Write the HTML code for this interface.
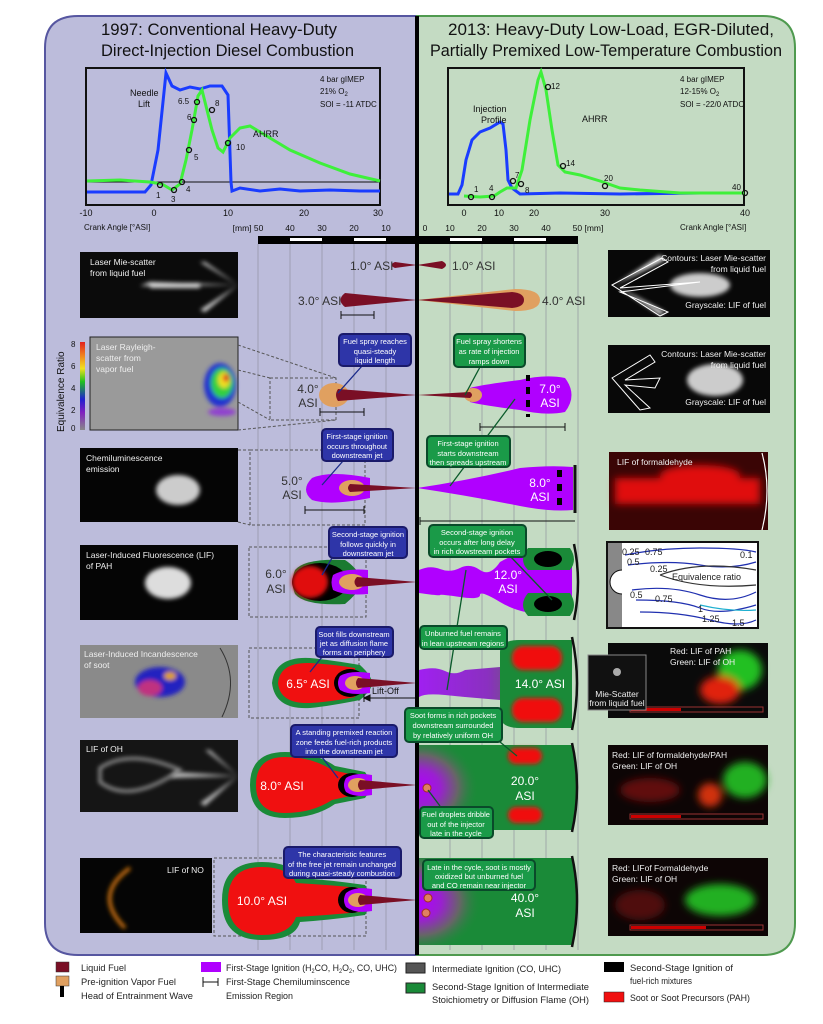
<!DOCTYPE html>
<html><head><meta charset="utf-8"><style>
html,body{margin:0;padding:0;background:#fff;}
svg{display:block;font-family:"Liberation Sans",sans-serif;}
.cb{fill:#fff;font-size:7.5px;text-anchor:middle;}
.lbl{font-size:12px;fill:#333;}
.wl{font-size:12px;fill:#fff;}
.il{font-size:8.5px;fill:#eee;}
.lg{font-size:9.5px;fill:#222;}
</style></head><body>
<svg width="823" height="1024" viewBox="0 0 823 1024" xmlns="http://www.w3.org/2000/svg">
<defs>
<filter id="bl" x="-50%" y="-50%" width="200%" height="200%"><feGaussianBlur stdDeviation="4"/></filter>
<filter id="bl2" x="-50%" y="-50%" width="200%" height="200%"><feGaussianBlur stdDeviation="2"/></filter>
<linearGradient id="pg" x1="0" x2="1"><stop offset="0" stop-color="#a020f0"/><stop offset="0.45" stop-color="#8a30c0"/><stop offset="0.7" stop-color="#666"/><stop offset="1" stop-color="#555"/></linearGradient>
<radialGradient id="rg" cx="0" cy="0.5" r="0.6"><stop offset="0" stop-color="#b000ff"/><stop offset="0.35" stop-color="#9a20d0"/><stop offset="0.65" stop-color="#666"/><stop offset="1" stop-color="#1a8a38" stop-opacity="0"/></radialGradient>
<linearGradient id="cbar" x1="0" y1="1" x2="0" y2="0"><stop offset="0" stop-color="#888"/><stop offset=".2" stop-color="#8020c0"/><stop offset=".35" stop-color="#2020d0"/><stop offset=".55" stop-color="#20c020"/><stop offset=".7" stop-color="#f0e020"/><stop offset=".85" stop-color="#f08020"/><stop offset="1" stop-color="#e02020"/></linearGradient>
</defs>

<!-- frames -->
<path d="M417 16 H78 Q45 16 45 48 V923 Q45 955 78 955 H417 Z" fill="#bcbcdb" stroke="#5656a0" stroke-width="2"/>
<path d="M417 16 H763 Q795 16 795 48 V923 Q795 955 763 955 H417 Z" fill="#c4dbc3" stroke="#4f9a4f" stroke-width="2"/>

<!-- titles -->
<text x="101" y="35" textLength="236" lengthAdjust="spacingAndGlyphs" font-size="17" fill="#111">1997: Conventional Heavy-Duty</text>
<text x="101" y="56" textLength="253" lengthAdjust="spacingAndGlyphs" font-size="17" fill="#111">Direct-Injection Diesel Combustion</text>
<text x="448" y="35" textLength="326" lengthAdjust="spacingAndGlyphs" font-size="17" fill="#111">2013: Heavy-Duty Low-Load, EGR-Diluted,</text>
<text x="430" y="56" textLength="352" lengthAdjust="spacingAndGlyphs" font-size="17" fill="#111">Partially Premixed Low-Temperature Combustion</text>

<!-- left plot -->
<rect x="86" y="68" width="294" height="137" fill="none" stroke="#111" stroke-width="2"/>
<line x1="86" y1="182" x2="380" y2="182" stroke="#111" stroke-width="1"/>
<polyline fill="none" stroke="#1a3cff" stroke-width="3" points="87,192 145,192 151,185 158,150 166,73 172,86 180,90 190,87 200,89 210,86 222,86 228,95 231,182 232,191 240,188 260,191 280,189 300,191 330,190 360,191 380,191"/>
<polyline fill="none" stroke="#3ef03a" stroke-width="3" points="87,181 120,180 150,182 162,184 172,190 180,184 186,160 192,130 198,96 202,90 207,110 212,130 218,148 223,152 230,138 240,128 250,126 265,135 290,150 320,163 350,174 380,181"/>
<g fill="none" stroke="#111" stroke-width="1.3">
<circle cx="160" cy="185" r="2.5"/><circle cx="174" cy="190" r="2.5"/><circle cx="182" cy="182" r="2.5"/><circle cx="189" cy="150" r="2.5"/><circle cx="194" cy="120" r="2.5"/><circle cx="197" cy="102" r="2.5"/><circle cx="212" cy="110" r="2.5"/><circle cx="228" cy="143" r="2.5"/>
</g>
<g font-size="8" fill="#111">
<text x="156" y="198">1</text><text x="171" y="202">3</text><text x="186" y="192">4</text><text x="194" y="160">5</text><text x="187" y="120">6</text><text x="178" y="104">6.5</text><text x="215" y="106">8</text><text x="236" y="150">10</text>
<text x="130" y="96" font-size="9">Needle</text><text x="138" y="107" font-size="9">Lift</text>
<text x="253" y="137" font-size="9">AHRR</text>
<text x="320" y="82">4 bar gIMEP</text><text x="320" y="94">21% O<tspan font-size="6" dy="2">2</tspan></text><text x="320" y="107">SOI = -11 ATDC</text>
</g>
<g font-size="9" fill="#111" text-anchor="middle">
<text x="86" y="216">-10</text><text x="154" y="216">0</text><text x="228" y="216">10</text><text x="304" y="216">20</text><text x="378" y="216">30</text>
</g>
<text x="84" y="230" font-size="8" fill="#111">Crank Angle [°ASI]</text>

<!-- right plot -->
<rect x="448" y="68" width="296" height="137" fill="none" stroke="#111" stroke-width="2"/>
<polyline fill="none" stroke="#1a3cff" stroke-width="3" points="449,194 458,194 462,185 466,160 472,140 480,132 490,128 500,122 503,124 506,150 508,180 512,188 520,194 560,193 620,194 700,193 744,193"/>
<polyline fill="none" stroke="#3ef03a" stroke-width="3" points="464,196 480,197 494,196 500,192 507,188 516,188 522,170 530,120 538,80 541,72 546,90 552,130 558,165 565,172 580,175 600,181 620,188 640,190 680,193 720,193 744,193"/>
<g fill="none" stroke="#111" stroke-width="1.3">
<circle cx="471" cy="197" r="2.5"/><circle cx="492" cy="197" r="2.5"/><circle cx="513" cy="181" r="2.5"/><circle cx="521" cy="184" r="2.5"/><circle cx="548" cy="87" r="2.5"/><circle cx="563" cy="166" r="2.5"/><circle cx="605" cy="186" r="2.5"/><circle cx="745" cy="193" r="2.5"/>
</g>
<g font-size="8" fill="#111">
<text x="474" y="192">1</text><text x="489" y="191">4</text><text x="515" y="178">7</text><text x="525" y="193">8</text><text x="551" y="89">12</text><text x="566" y="166">14</text><text x="604" y="181">20</text><text x="732" y="190">40</text>
<text x="473" y="112" font-size="9">Injection</text><text x="481" y="123" font-size="9">Profile</text>
<text x="582" y="122" font-size="9">AHRR</text>
<text x="680" y="82">4 bar gIMEP</text><text x="680" y="94">12-15% O<tspan font-size="6" dy="2">2</tspan></text><text x="680" y="107">SOI = -22/0 ATDC</text>
</g>
<g font-size="9" fill="#111" text-anchor="middle">
<text x="464" y="216">0</text><text x="499" y="216">10</text><text x="534" y="216">20</text><text x="605" y="216">30</text><text x="745" y="216">40</text>
</g>
<text x="680" y="230" font-size="8" fill="#111">Crank Angle [°ASI]</text>

<!-- mm scale -->
<g font-size="8.5" fill="#111" text-anchor="middle">
<text x="248" y="231">[mm] 50</text><text x="290" y="231">40</text><text x="322" y="231">30</text><text x="354" y="231">20</text><text x="386" y="231">10</text><text x="425" y="231">0</text><text x="450" y="231">10</text><text x="482" y="231">20</text><text x="514" y="231">30</text><text x="546" y="231">40</text><text x="588" y="231">50 [mm]</text>
</g>
<rect x="258" y="236" width="320" height="8" fill="#000"/>
<g fill="#fff"><rect x="290" y="238" width="32" height="3"/><rect x="354" y="238" width="32" height="3"/><rect x="450" y="238" width="32" height="3"/><rect x="514" y="238" width="32" height="3"/></g>
<g stroke="#8e8e9e" stroke-width="0.8" opacity="0.8">
<line x1="258" y1="244" x2="258" y2="950"/><line x1="290" y1="244" x2="290" y2="950"/><line x1="322" y1="244" x2="322" y2="950"/><line x1="354" y1="244" x2="354" y2="950"/><line x1="386" y1="244" x2="386" y2="950"/>
<line x1="450" y1="244" x2="450" y2="950"/><line x1="482" y1="244" x2="482" y2="950"/><line x1="514" y1="244" x2="514" y2="950"/><line x1="546" y1="244" x2="546" y2="950"/><line x1="578" y1="244" x2="578" y2="950"/>
</g>

<!-- LEFT IMAGES -->
<rect x="80" y="252" width="158" height="66" fill="#0b0b0b"/>
<g filter="url(#bl2)" fill="#ddd"><path d="M238 285 L200 262 L205 262 Z"/><path d="M238 285 L205 312 L200 310 Z"/><path d="M238 285 L140 286 L150 282 Z"/><rect x="150" y="283" width="50" height="5"/></g>
<text x="90" y="265" class="il">Laser Mie-scatter</text><text x="90" y="276" class="il">from liquid fuel</text>

<rect x="90" y="337" width="148" height="93" fill="#9a9a9a" stroke="#222"/>
<g filter="url(#bl2)"><ellipse cx="220" cy="385" rx="16" ry="22" fill="#2030d0"/><ellipse cx="222" cy="383" rx="11" ry="15" fill="#30d040"/><ellipse cx="224" cy="380" rx="6" ry="8" fill="#f0e020"/><ellipse cx="226" cy="378" rx="3" ry="4" fill="#e02020"/><ellipse cx="222" cy="412" rx="14" ry="4" fill="#9040d0"/></g>
<text x="96" y="350" class="il">Laser Rayleigh-</text><text x="96" y="361" class="il">scatter from</text><text x="96" y="372" class="il">vapor fuel</text>
<rect x="80" y="342" width="5" height="88" fill="url(#cbar)"/>
<g font-size="8" fill="#111"><text x="71" y="347">8</text><text x="71" y="369">6</text><text x="71" y="391">4</text><text x="71" y="413">2</text><text x="71" y="431">0</text></g>
<text transform="translate(64 432) rotate(-90)" font-size="10" fill="#111">Equivalence Ratio</text>

<rect x="80" y="448" width="158" height="74" fill="#050505"/>
<ellipse cx="178" cy="490" rx="22" ry="15" fill="#ccc" filter="url(#bl2)"/>
<text x="86" y="461" class="il">Chemiluminescence</text><text x="86" y="472" class="il">emission</text>

<rect x="80" y="545" width="158" height="75" fill="#050505"/>
<ellipse cx="168" cy="583" rx="23" ry="16" fill="#ddd" filter="url(#bl2)"/>
<text x="86" y="558" class="il">Laser-Induced Fluorescence (LIF)</text><text x="86" y="569" class="il">of PAH</text>

<rect x="80" y="645" width="158" height="73" fill="#8a8a8a"/>
<path d="M220 648 Q240 680 222 717" fill="none" stroke="#333" stroke-width="1"/>
<g filter="url(#bl2)"><ellipse cx="160" cy="682" rx="25" ry="15" fill="#2020c0"/><ellipse cx="150" cy="688" rx="12" ry="8" fill="#c03080"/><ellipse cx="170" cy="676" rx="6" ry="4" fill="#e0a020"/></g>
<text x="84" y="657" class="il">Laser-Induced Incandescence</text><text x="84" y="668" class="il">of soot</text>

<rect x="80" y="740" width="158" height="72" fill="#151515"/>
<g filter="url(#bl2)" fill="#bbb"><path d="M238 776 L205 750 L210 750 Z"/><path d="M238 776 L205 806 L200 803 Z"/><path d="M238 776 L170 778 L175 772 Z"/></g>
<path d="M100 768 Q130 748 180 770 Q130 805 100 782 Z" fill="none" stroke="#999" stroke-width="3" filter="url(#bl2)"/>
<text x="86" y="752" class="il">LIF of OH</text>

<rect x="80" y="858" width="132" height="75" fill="#050505"/>
<path d="M130 868 Q92 895 125 928" fill="none" stroke="#c06a10" stroke-width="4" filter="url(#bl2)"/>
<text x="167" y="873" class="il">LIF of NO</text>

<!-- dashed boxes -->
<g fill="none" stroke="#555" stroke-width="1" stroke-dasharray="3,2">
<rect x="270" y="378" width="66" height="42"/>
<line x1="238" y1="345" x2="336" y2="378"/><line x1="238" y1="430" x2="336" y2="420"/>
<line x1="238" y1="370" x2="270" y2="378"/><line x1="238" y1="402" x2="270" y2="420"/>
<rect x="250" y="450" width="115" height="75"/><line x1="238" y1="450" x2="250" y2="450"/><line x1="238" y1="522" x2="250" y2="525"/>
<rect x="249" y="547" width="117" height="70"/>
<rect x="249" y="648" width="110" height="70"/>
<rect x="214" y="858" width="152" height="78"/>
</g>

<!-- RIGHT IMAGES -->
<rect x="608" y="250" width="162" height="67" fill="#080808"/>
<g filter="url(#bl2)"><ellipse cx="700" cy="285" rx="30" ry="12" fill="#ccc"/><path d="M615 285 L660 255 L665 260 Z" fill="#ddd"/><path d="M615 285 L665 312 L660 315 Z" fill="#ddd"/></g>
<g fill="none" stroke="#fff" stroke-width="1"><path d="M612 285 L662 258 L668 262 L620 288 L700 282 L620 292 L668 312 L660 316 Z"/></g>
<text x="766" y="261" class="il" text-anchor="end">Contours: Laser Mie-scatter</text><text x="766" y="272" class="il" text-anchor="end">from liquid fuel</text><text x="766" y="308" class="il" text-anchor="end">Grayscale: LIF of fuel</text>

<rect x="608" y="345" width="162" height="68" fill="#080808"/>
<g filter="url(#bl2)"><ellipse cx="715" cy="380" rx="28" ry="16" fill="#ccc"/></g>
<g fill="none" stroke="#fff" stroke-width="1"><path d="M612 378 L650 355 L655 362 L625 380 L660 378 L655 388 L625 385 L650 408 L640 410 Z"/></g>
<text x="766" y="357" class="il" text-anchor="end">Contours: Laser Mie-scatter</text><text x="766" y="368" class="il" text-anchor="end">from liquid fuel</text><text x="766" y="405" class="il" text-anchor="end">Grayscale: LIF of fuel</text>

<rect x="609" y="452" width="159" height="78" fill="#3a0505"/>
<g filter="url(#bl)" fill="#e01010"><rect x="615" y="478" width="145" height="26"/><ellipse cx="700" cy="475" rx="40" ry="10"/></g>
<path d="M762 453 Q772 490 762 530" fill="none" stroke="#fff" stroke-width="1.2"/>
<text x="617" y="465" class="il">LIF of formaldehyde</text>

<rect x="607" y="542" width="151" height="86" fill="#fff" stroke="#111" stroke-width="2"/>
<rect x="608" y="543" width="14" height="84" fill="#888"/>
<path d="M622 570 A12 12 0 0 0 622 594" fill="#fff" stroke="#111"/>
<g fill="none" stroke="#2030b0" stroke-width="1.2">
<path d="M625 555 Q660 548 700 548 T756 552"/><path d="M628 565 Q670 560 700 565 T756 562"/><path d="M632 590 Q670 585 700 595 T756 592"/><path d="M636 600 Q680 600 700 608 T756 605"/><path d="M640 612 Q680 612 710 620 T756 620"/>
</g>
<path d="M660 575 Q700 560 756 570 M660 575 Q700 590 756 585" fill="none" stroke="#333" stroke-width="1.2"/>
<path d="M700 605 Q730 612 756 610" fill="none" stroke="#20b0d0" stroke-width="1.2"/>
<g font-size="9" fill="#222"><text x="622" y="555">0.25</text><text x="645" y="555">0.75</text><text x="627" y="565">0.5</text><text x="740" y="558">0.1</text><text x="650" y="572">0.25</text><text x="672" y="580">Equivalence ratio</text><text x="630" y="598">0.5</text><text x="655" y="602">0.75</text><text x="698" y="612">1</text><text x="702" y="622">1.25</text><text x="732" y="626">1.5</text></g>

<rect x="608" y="643" width="160" height="75" fill="#0a0a0a"/>
<g filter="url(#bl)"><ellipse cx="740" cy="670" rx="22" ry="20" fill="#20c020"/><ellipse cx="720" cy="690" rx="20" ry="14" fill="#e02010"/></g>
<rect x="630" y="707" width="133" height="5" fill="none" stroke="#933" stroke-width="1"/><rect x="631" y="708" width="50" height="3" fill="#c00"/>
<text x="670" y="654" class="il">Red: LIF of PAH</text><text x="670" y="665" class="il">Green: LIF of OH</text>
<rect x="588" y="655" width="58" height="55" fill="#111" stroke="#888"/>
<circle cx="617" cy="672" r="4" fill="#aaa"/>
<text x="617" y="697" class="il" text-anchor="middle" font-size="7.5">Mie-Scatter</text><text x="617" y="706" class="il" text-anchor="middle" font-size="7.5">from liquid fuel</text>

<rect x="608" y="745" width="160" height="80" fill="#0d0505"/>
<g filter="url(#bl)"><ellipse cx="650" cy="790" rx="30" ry="12" fill="#601010"/><ellipse cx="745" cy="780" rx="22" ry="18" fill="#20b020"/><ellipse cx="710" cy="795" rx="12" ry="12" fill="#d03010"/></g>
<rect x="630" y="814" width="133" height="5" fill="none" stroke="#933"/><rect x="631" y="815" width="50" height="3" fill="#c00"/>
<text x="612" y="758" class="il">Red: LIF of formaldehyde/PAH</text><text x="612" y="769" class="il">Green: LIF of OH</text>

<rect x="608" y="858" width="160" height="78" fill="#0d0505"/>
<g filter="url(#bl)"><ellipse cx="640" cy="905" rx="25" ry="15" fill="#501010"/><ellipse cx="720" cy="900" rx="35" ry="16" fill="#20b020"/></g>
<rect x="630" y="925" width="133" height="5" fill="none" stroke="#933"/><rect x="631" y="926" width="75" height="3" fill="#c00"/>
<text x="612" y="871" class="il">Red: LIFof Formaldehyde</text><text x="612" y="882" class="il">Green: LIF of OH</text>

<!-- ===== JETS ===== -->
<path d="M417 265 L395 262 Q388 265 395 268 Z" fill="#7a0f25"/>
<path d="M417 265 L442 261 Q450 265 442 269 Z" fill="#7a0f25"/>
<text x="350" y="270" class="lbl">1.0° ASI</text><text x="452" y="270" class="lbl">1.0° ASI</text>
<path d="M417 300 L345 293 Q336 300 345 307 Z" fill="#7a0f25"/>
<path d="M417 300 L515 289 Q540 289 540 300 Q540 311 515 311 Z" fill="#e0a060"/>
<path d="M417 300 L512 292 Q524 293 524 300 Q524 307 512 308 Z" fill="#7a0f25"/>
<text x="298" y="305" class="lbl">3.0° ASI</text><text x="542" y="305" class="lbl">4.0° ASI</text>
<g stroke="#111" stroke-width="1"><line x1="341" y1="315" x2="374" y2="315"/><line x1="341" y1="311" x2="341" y2="319"/><line x1="374" y1="311" x2="374" y2="319"/></g>
<ellipse cx="334" cy="395" rx="15" ry="12" fill="#e0a060"/>
<path d="M417 395 L338 389 Q334 395 338 401 Z" fill="#7a0f25"/>
<path d="M470 388 Q480 385 520 380 Q545 374 565 378 Q578 395 565 412 Q545 416 520 410 Q480 405 470 402 Z" fill="#b000ff"/>
<ellipse cx="473" cy="395" rx="9" ry="7" fill="#e0a060"/>
<path d="M417 395 L470 392 Q474 395 470 398 Z" fill="#7a0f25"/>
<g fill="#000"><rect x="526" y="375" width="4" height="6"/><rect x="526" y="387" width="4" height="7"/><rect x="526" y="400" width="4" height="7"/><rect x="526" y="414" width="4" height="3"/></g>
<text x="550" y="393" class="wl" text-anchor="middle">7.0°</text><text x="550" y="407" class="wl" text-anchor="middle">ASI</text>
<text x="308" y="393" class="lbl" text-anchor="middle">4.0°</text><text x="308" y="407" class="lbl" text-anchor="middle">ASI</text>
<g stroke="#111" stroke-width="1"><line x1="320" y1="412" x2="364" y2="412"/><line x1="320" y1="408" x2="320" y2="416"/><line x1="364" y1="408" x2="364" y2="416"/>
<line x1="480" y1="427" x2="565" y2="427"/><line x1="480" y1="423" x2="480" y2="431"/><line x1="565" y1="423" x2="565" y2="431"/></g>
<path d="M370 478 Q330 470 312 478 Q300 490 312 500 Q330 506 370 498 Z" fill="#b000ff"/>
<ellipse cx="352" cy="488" rx="13" ry="8" fill="#e0a060"/>
<path d="M417 488 L350 484 Q346 488 350 492 Z" fill="#7a0f25"/>
<path d="M417 488 Q470 480 520 468 Q550 465 573 467 L573 510 Q550 512 520 506 Q470 496 417 488 Z" fill="#b000ff"/>
<line x1="575" y1="465" x2="575" y2="513" stroke="#111" stroke-width="3"/>
<g fill="#000"><rect x="557" y="470" width="5" height="7"/><rect x="557" y="484" width="5" height="7"/><rect x="557" y="498" width="5" height="7"/></g>
<text x="540" y="487" class="wl" text-anchor="middle">8.0°</text><text x="540" y="501" class="wl" text-anchor="middle">ASI</text>
<text x="292" y="485" class="lbl" text-anchor="middle">5.0°</text><text x="292" y="499" class="lbl" text-anchor="middle">ASI</text>
<g stroke="#111" stroke-width="1"><line x1="305" y1="510" x2="364" y2="510"/><line x1="305" y1="506" x2="305" y2="514"/><line x1="364" y1="506" x2="364" y2="514"/>
<line x1="420" y1="521" x2="575" y2="521"/><line x1="420" y1="517" x2="420" y2="525"/></g>
<path d="M345 560 Q305 558 295 570 Q290 582 295 594 Q305 606 345 604 Q355 596 365 582 Q355 566 345 560 Z" fill="#1a7a30"/>
<ellipse cx="320" cy="582" rx="28" ry="19" fill="#000"/>
<ellipse cx="310" cy="582" rx="18" ry="16" fill="#e01010" filter="url(#bl2)"/>
<path d="M368 570 Q345 568 333 575 Q330 582 333 590 Q345 596 368 594 Z" fill="#b000ff"/>
<ellipse cx="352" cy="582" rx="13" ry="8" fill="#e0a060"/>
<path d="M417 582 L357 577 Q352 582 357 587 Z" fill="#7a0f25"/>
<text x="276" y="578" class="lbl" text-anchor="middle">6.0°</text><text x="276" y="593" class="lbl" text-anchor="middle">ASI</text>
<path d="M419 570 Q430 565 440 569 T460 568 T480 570 T500 562 Q520 550 545 550 L572 552 L572 612 L545 614 Q520 614 500 602 T480 595 T460 597 T440 595 T419 593 Z" fill="#b000ff"/>
<path d="M528 548 Q518 560 528 570 L570 570 Q578 560 570 548 Z" fill="#1a8a38"/><ellipse cx="548" cy="559" rx="14" ry="8" fill="#000"/>
<path d="M528 593 Q518 605 528 616 L570 616 Q578 605 570 593 Z" fill="#1a8a38"/><ellipse cx="548" cy="604" rx="14" ry="8" fill="#000"/>
<path d="M574 544 Q582 582 574 620" fill="none" stroke="#111" stroke-width="2.5"/>
<text x="508" y="579" class="wl" text-anchor="middle">12.0°</text><text x="508" y="593" class="wl" text-anchor="middle">ASI</text>
<path d="M360 665 Q330 660 310 658 Q275 656 272 683 Q275 710 310 708 Q330 706 360 700 Q372 690 372 683 Q372 676 360 665 Z" fill="#1a8a38"/>
<path d="M355 668 Q330 664 310 663 Q280 662 278 683 Q280 704 310 703 Q330 702 355 697 Z" fill="#f01010"/>
<ellipse cx="350" cy="683" rx="16" ry="14" fill="#000"/>
<path d="M370 673 Q350 670 340 676 Q336 683 340 690 Q350 696 370 693 Z" fill="#b000ff"/>
<ellipse cx="355" cy="683" rx="10" ry="7" fill="#e0a060"/>
<path d="M417 683 L358 678 Q354 683 358 688 Z" fill="#7a0f25"/>
<text x="308" y="688" class="wl" text-anchor="middle">6.5° ASI</text>
<g stroke="#111" stroke-width="1"><line x1="364" y1="698" x2="417" y2="698"/><line x1="364" y1="694" x2="364" y2="702"/><path d="M364 698 l6 -3 v6 Z" fill="#111"/></g>
<text x="372" y="694" font-size="9" fill="#111">Lift-Off</text>
<path d="M419 670 Q435 666 445 671 T465 670 L500 667 Q500 640 520 640 L572 640 L572 728 L520 728 Q500 728 500 700 L465 697 T445 695 T419 697 Z" fill="url(#pg)"/>
<path d="M500 652 Q500 640 520 640 L572 640 L572 728 L520 728 Q500 728 500 715 Z" fill="#1a8a38"/>
<rect x="512" y="646" width="50" height="24" rx="11" fill="#f01010" filter="url(#bl2)"/>
<rect x="512" y="698" width="50" height="24" rx="11" fill="#f01010" filter="url(#bl2)"/>
<path d="M572 637 Q582 683 572 730" fill="none" stroke="#111" stroke-width="2.5"/>
<text x="540" y="688" class="wl" text-anchor="middle">14.0° ASI</text>
<path d="M250 785 Q250 752 285 752 Q315 752 335 766 Q345 768 365 772 Q375 785 365 798 Q345 802 335 804 Q315 818 285 818 Q250 818 250 785 Z" fill="#1a8a38"/>
<path d="M256 785 Q256 757 285 757 Q312 757 332 770 Q345 773 360 776 L360 794 Q345 797 332 800 Q312 813 285 813 Q256 813 256 785 Z" fill="#f01010"/>
<ellipse cx="352" cy="785" rx="14" ry="12" fill="#000"/>
<path d="M372 775 Q355 772 346 778 Q342 785 346 792 Q355 798 372 795 Z" fill="#b000ff"/>
<ellipse cx="358" cy="785" rx="10" ry="7" fill="#e0a060"/>
<path d="M417 785 L360 780 Q356 785 360 790 Z" fill="#7a0f25"/>
<text x="282" y="790" class="wl" text-anchor="middle">8.0° ASI</text>
<path d="M419 745 L572 745 Q580 787 572 830 L419 830 Z" fill="#1a8a38"/>
<rect x="419" y="745" width="100" height="85" fill="url(#rg)"/>
<rect x="508" y="748" width="34" height="16" rx="8" fill="#f01010" filter="url(#bl2)"/>
<rect x="508" y="807" width="34" height="16" rx="8" fill="#f01010" filter="url(#bl2)"/>
<path d="M572 743 Q582 787 572 832" fill="none" stroke="#111" stroke-width="2.5"/>
<circle cx="427" cy="788" r="4" fill="#e08060" stroke="#a03020"/>
<text x="525" y="785" class="wl" text-anchor="middle">20.0°</text><text x="525" y="800" class="wl" text-anchor="middle">ASI</text>
<path d="M222 900 Q222 862 262 862 Q290 862 300 878 Q330 880 365 885 Q375 900 365 915 Q330 920 300 922 Q295 940 262 940 Q222 940 222 900 Z" fill="#1a8a38"/>
<path d="M228 900 Q228 867 262 867 Q288 867 296 883 Q330 885 360 888 L360 912 Q330 915 296 917 Q290 935 262 935 Q228 935 228 900 Z" fill="#f01010"/>
<ellipse cx="352" cy="900" rx="14" ry="13" fill="#000"/>
<path d="M372 889 Q355 886 346 893 Q342 900 346 907 Q355 914 372 911 Z" fill="#b000ff"/>
<ellipse cx="358" cy="900" rx="10" ry="7" fill="#e0a060"/>
<path d="M417 900 L360 895 Q356 900 360 905 Z" fill="#7a0f25"/>
<text x="262" y="905" class="wl" text-anchor="middle">10.0° ASI</text>
<path d="M419 858 L572 858 Q580 901 572 945 L419 945 Z" fill="#1a8a38"/>
<rect x="419" y="858" width="105" height="87" fill="url(#rg)"/>
<path d="M572 856 Q582 901 572 947" fill="none" stroke="#111" stroke-width="2.5"/>
<circle cx="428" cy="898" r="4" fill="#e08060" stroke="#a03020"/><circle cx="426" cy="913" r="4" fill="#e08060" stroke="#a03020"/>
<text x="525" y="902" class="wl" text-anchor="middle">40.0°</text><text x="525" y="917" class="wl" text-anchor="middle">ASI</text>

<!-- central divider -->
<rect x="415" y="16" width="4" height="939" fill="#000"/>

<!-- callout pointer lines -->
<g stroke="#1a2a8a" stroke-width="1.3">
<line x1="362" y1="366" x2="338" y2="393"/><line x1="343" y1="461" x2="322" y2="485"/><line x1="332" y1="558" x2="322" y2="575"/><line x1="322" y1="657" x2="310" y2="672"/><line x1="322" y1="757" x2="338" y2="778"/>
</g>
<g stroke="#0a5a2a" stroke-width="1.3">
<line x1="480" y1="367" x2="465" y2="395"/><line x1="515" y1="399" x2="450" y2="486"/><line x1="510" y1="556" x2="552" y2="600"/><line x1="466" y1="570" x2="447" y2="690"/><line x1="500" y1="742" x2="517" y2="756"/><line x1="440" y1="806" x2="428" y2="790"/>
</g>

<!-- callouts -->
<g stroke-width="2">
<rect x="339" y="334" width="72" height="32" rx="4" fill="#2e35a8" stroke="#1a1a6a"/>
<rect x="322" y="429" width="71" height="32" rx="4" fill="#2e35a8" stroke="#1a1a6a"/>
<rect x="329" y="527" width="78" height="31" rx="4" fill="#2e35a8" stroke="#1a1a6a"/>
<rect x="316" y="627" width="77" height="30" rx="4" fill="#2e35a8" stroke="#1a1a6a"/>
<rect x="291" y="725" width="106" height="32" rx="4" fill="#2e35a8" stroke="#1a1a6a"/>
<rect x="284" y="847" width="117" height="31" rx="4" fill="#2e35a8" stroke="#1a1a6a"/>
<rect x="454" y="334" width="71" height="33" rx="4" fill="#1a9a48" stroke="#0a4a2a"/>
<rect x="427" y="436" width="83" height="31" rx="4" fill="#1a9a48" stroke="#0a4a2a"/>
<rect x="429" y="525" width="97" height="32" rx="4" fill="#1a9a48" stroke="#0a4a2a"/>
<rect x="420" y="626" width="87" height="23" rx="4" fill="#1a9a48" stroke="#0a4a2a"/>
<rect x="405" y="708" width="97" height="34" rx="4" fill="#1a9a48" stroke="#0a4a2a"/>
<rect x="420" y="807" width="73" height="31" rx="4" fill="#1a9a48" stroke="#0a4a2a"/>
<rect x="423" y="860" width="112" height="30" rx="4" fill="#1a9a48" stroke="#0a4a2a"/>
</g>
<g class="cb" fill="#fff" font-size="7.5" text-anchor="middle">
<text x="375" y="344">Fuel spray reaches</text><text x="375" y="354">quasi-steady</text><text x="375" y="363">liquid length</text>
<text x="357" y="439">First-stage ignition</text><text x="357" y="449">occurs throughout</text><text x="357" y="458">downstream jet</text>
<text x="368" y="537">Second-stage ignition</text><text x="368" y="547">follows quickly in</text><text x="368" y="556">downstream jet</text>
<text x="354" y="637">Soot fills downstream</text><text x="354" y="646">jet as diffusion flame</text><text x="354" y="655">forms on periphery</text>
<text x="344" y="735">A standing premixed reaction</text><text x="344" y="745">zone feeds fuel-rich products</text><text x="344" y="754">into the downstream jet</text>
<text x="342" y="857">The characteristic features</text><text x="342" y="867">of the free jet remain unchanged</text><text x="342" y="876">during quasi-steady combustion</text>
<text x="489" y="344">Fuel spray shortens</text><text x="489" y="354">as rate of injection</text><text x="489" y="364">ramps down</text>
<text x="468" y="446">First-stage ignition</text><text x="468" y="456">starts downstream</text><text x="468" y="465">then spreads upstream</text>
<text x="477" y="535">Second-stage ignition</text><text x="477" y="545">occurs after long delay</text><text x="477" y="554">in rich dowstream pockets</text>
<text x="463" y="636">Unburned fuel remains</text><text x="463" y="646">in lean upstream regions</text>
<text x="453" y="718">Soot forms in rich pockets</text><text x="453" y="728">downstream surrounded</text><text x="453" y="738">by relatively uniform OH</text>
<text x="456" y="817">Fuel droplets dribble</text><text x="456" y="827">out of the injector</text><text x="456" y="836">late in the cycle</text>
<text x="479" y="870">Late in the cycle, soot is mostly</text><text x="479" y="879">oxidized but unburned fuel</text><text x="479" y="888">and CO remain near injector</text>
</g>

<!-- legend -->
<rect x="56" y="962" width="13" height="10" fill="#7a0f25" stroke="#333" stroke-width=".5"/><text x="81" y="971" class="lg" textLength="45" lengthAdjust="spacingAndGlyphs">Liquid Fuel</text>
<rect x="56" y="976" width="13" height="10" fill="#e0a060" stroke="#333" stroke-width=".5"/><text x="81" y="985" class="lg" textLength="95" lengthAdjust="spacingAndGlyphs">Pre-ignition Vapor Fuel</text>
<rect x="60" y="986" width="4" height="11" fill="#000"/><text x="81" y="999" class="lg" textLength="112" lengthAdjust="spacingAndGlyphs">Head of Entrainment Wave</text>
<rect x="201" y="962" width="20" height="10" fill="#b000ff"/><text x="226" y="971" class="lg" textLength="171" lengthAdjust="spacingAndGlyphs">First-Stage Ignition (H<tspan font-size="6" dy="2">2</tspan><tspan dy="-2">CO, H</tspan><tspan font-size="6" dy="2">2</tspan><tspan dy="-2">O</tspan><tspan font-size="6" dy="2">2</tspan><tspan dy="-2">, CO, UHC)</tspan></text>
<g stroke="#111"><line x1="203" y1="982" x2="218" y2="982"/><line x1="203" y1="977" x2="203" y2="987"/><line x1="218" y1="978" x2="218" y2="986"/></g><text x="226" y="985" class="lg" textLength="124" lengthAdjust="spacingAndGlyphs">First-Stage Chemiluminscence</text><text x="226" y="999" class="lg" textLength="67" lengthAdjust="spacingAndGlyphs">Emission Region</text>
<rect x="406" y="963" width="19" height="10" fill="#555" stroke="#222"/><text x="432" y="972" class="lg" textLength="129" lengthAdjust="spacingAndGlyphs">Intermediate Ignition (CO, UHC)</text>
<rect x="406" y="983" width="19" height="10" fill="#1a8a38" stroke="#222"/><text x="432" y="990" class="lg" textLength="157" lengthAdjust="spacingAndGlyphs">Second-Stage Ignition of Intermediate</text><text x="432" y="1003" class="lg" textLength="157" lengthAdjust="spacingAndGlyphs">Stoichiometry or Diffusion Flame (OH)</text>
<rect x="604" y="962" width="20" height="10" fill="#000"/><text x="630" y="971" class="lg" textLength="103" lengthAdjust="spacingAndGlyphs">Second-Stage Ignition of</text><text x="630" y="984" class="lg" textLength="62" lengthAdjust="spacingAndGlyphs">fuel-rich mixtures</text>
<rect x="604" y="992" width="20" height="10" fill="#f01010" stroke="#222" stroke-width=".5"/><text x="630" y="1001" class="lg" textLength="120" lengthAdjust="spacingAndGlyphs">Soot or Soot Precursors (PAH)</text>
</svg>
</body></html>
